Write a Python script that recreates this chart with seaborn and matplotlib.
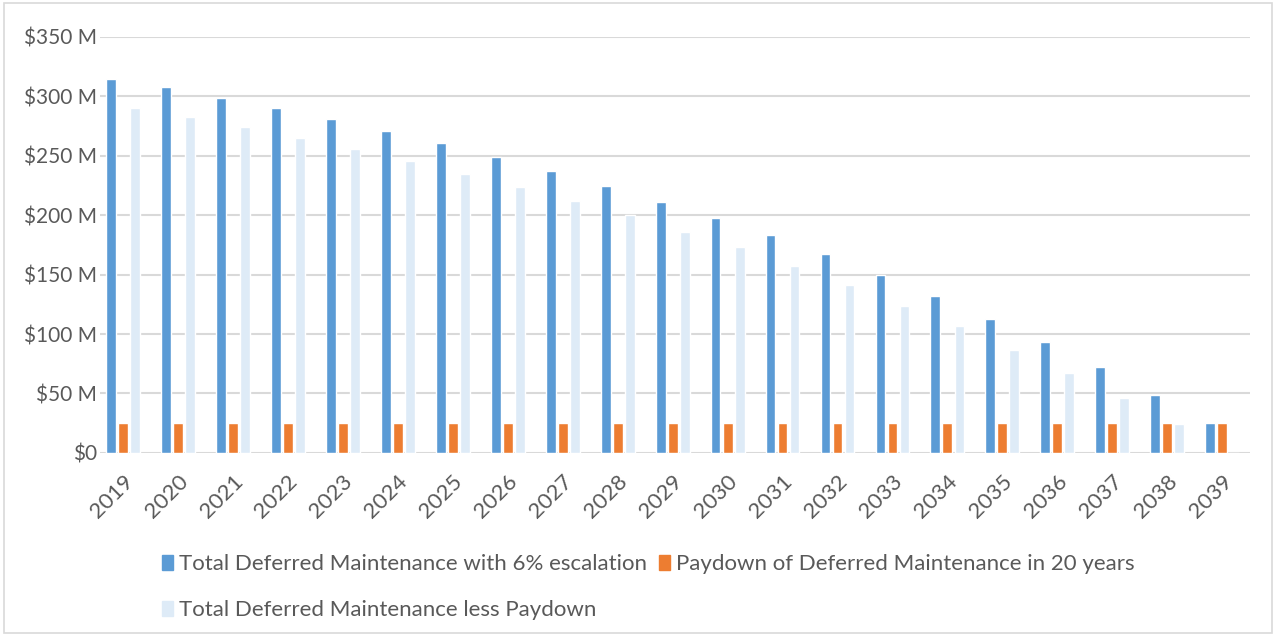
import pandas as pd
import matplotlib.pyplot as plt
import seaborn as sns
from matplotlib.patches import Patch, Rectangle

# values, in $ millions
years = [str(y) for y in range(2019, 2040)]
total_escalated = [315, 308, 299, 290, 281, 271, 261, 249, 237, 225, 211,
                   198, 183, 167, 150, 132, 113, 93, 72, 49, 25]
paydown = [25] * 21
total_less_paydown = [290, 283, 274, 265, 256, 246, 235, 224, 212, 200, 186,
                      173, 157, 141, 124, 107, 87, 67, 46, 24, 0]

series_names = ['Total Deferred Maintenance with 6% escalation',
                'Paydown of Deferred Maintenance in 20 years',
                'Total Deferred Maintenance less Paydown']
colors = ['#5B9BD5', '#ED7D31', '#DEEBF7']

df = pd.DataFrame({'Year': years * 3,
                   'Value': total_escalated + paydown + total_less_paydown,
                   'Series': [series_names[0]] * 21 + [series_names[1]] * 21 + [series_names[2]] * 21})

sns.set_style('white')
plt.rcParams['font.family'] = ['Lato', 'DejaVu Sans']

fig = plt.figure(figsize=(12.76, 6.37), dpi=100)
ax = fig.add_axes([0.078, 0.289, 0.902, 0.653])

sns.barplot(data=df, x='Year', y='Value', hue='Series', palette=colors,
            saturation=1, width=0.655, gap=0.17, ax=ax, legend=False)

ax.set_ylim(0, 350)
ax.set_xlim(-0.42, 20.51)
ax.set_yticks(range(0, 351, 50))
ax.set_yticklabels(['$0'] + [f'${v} M' for v in range(50, 351, 50)])
ax.yaxis.grid(True, color='#D9D9D9', linewidth=1.5)
ax.set_axisbelow(True)
for s in ax.spines.values():
    s.set_visible(False)
ax.axhline(0, color='#D9D9D9', linewidth=2, zorder=0)
ax.set_xlabel('')
ax.set_ylabel('')
ax.tick_params(axis='both', colors='#595959', length=0)
ax.tick_params(axis='y', labelsize=15, pad=2)
ax.tick_params(axis='x', labelsize=16, pad=13)
plt.setp(ax.get_xticklabels(), rotation=45, ha='right', rotation_mode='anchor')

# legend: blue / orange on first row, light blue on second
handles = [Patch(color=c) for c in colors]
order = [0, 2, 1]
fig.legend([handles[i] for i in order], [series_names[i] for i in order],
           ncol=2, loc='upper left', bbox_to_anchor=(0.111, 0.161),
           frameon=False, fontsize=16, labelcolor='#595959',
           handlelength=0.5, handleheight=0.7, handletextpad=0.3,
           columnspacing=0.5, labelspacing=1.17)

# outer frame of the chart area
fig.patches.append(Rectangle((0.003, 0.006), 0.994, 0.99, transform=fig.transFigure,
                             fill=False, edgecolor='#D9D9D9', linewidth=1.2))

fig.savefig('out.png', dpi=100)
